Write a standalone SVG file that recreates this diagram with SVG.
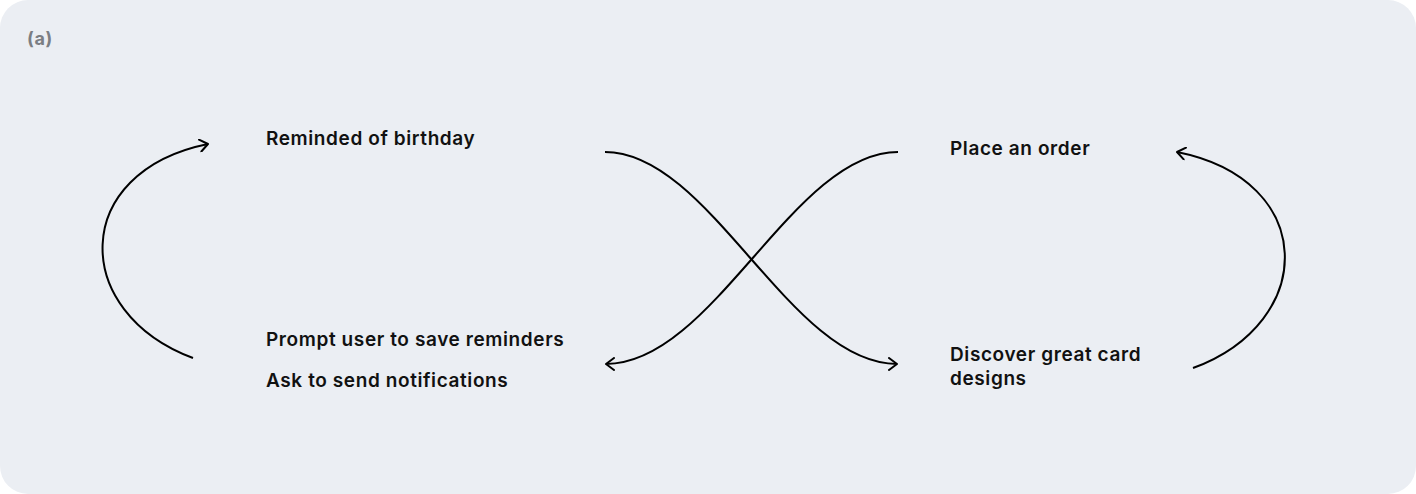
<svg xmlns="http://www.w3.org/2000/svg" width="1416" height="494" viewBox="0 0 1416 494">
<style>
.lbl{font-family:Inter,"Noto Sans","Liberation Sans",sans-serif;font-size:19px;font-weight:600;letter-spacing:0.6px;fill:#111;}
.cap{font-family:Inter,"Noto Sans","Liberation Sans",sans-serif;font-size:18px;font-weight:700;letter-spacing:0.6px;fill:#7b7e83;}
.conn{fill:none;stroke:#000;stroke-width:2;}
</style>
<defs>
<marker id="ah" viewBox="0 0 12 14" refX="10" refY="7" markerWidth="12" markerHeight="14" markerUnits="userSpaceOnUse" orient="auto">
<path d="M2,1 L10,7 L2,13" fill="none" stroke="#000" stroke-width="2" stroke-linecap="round" stroke-linejoin="round"/>
</marker>
</defs>
<rect x="0" y="0" width="1416" height="494" fill="#ffffff"/>
<rect x="0" y="0" width="1416" height="494" rx="28" ry="28" fill="#ebeef3"/>
<text class="cap" x="27" y="45">(a)</text>
<g id="connectors">
<path class="conn" d="M193,358 C70,312 70,172 208,144" marker-end="url(#ah)"/>
<path class="conn" d="M1193,368 C1318,322 1318,180 1177,152" marker-end="url(#ah)"/>
<path class="conn" d="M605,152 C710,152 790,364 897,364" marker-end="url(#ah)"/>
<path class="conn" d="M898,152 C793,152 713,364 606,364" marker-end="url(#ah)"/>
</g>
<g id="n1"><text class="lbl" x="266" y="145">Reminded of birthday</text></g>
<g id="n2"><text class="lbl" x="266" y="346">Prompt user to save reminders</text><text class="lbl" x="266" y="387">Ask to send notifications</text></g>
<g id="n3"><text class="lbl" x="950" y="155">Place an order</text></g>
<g id="n4"><text class="lbl" x="950" y="361">Discover great card</text><text class="lbl" x="950" y="385">designs</text></g>
</svg>
